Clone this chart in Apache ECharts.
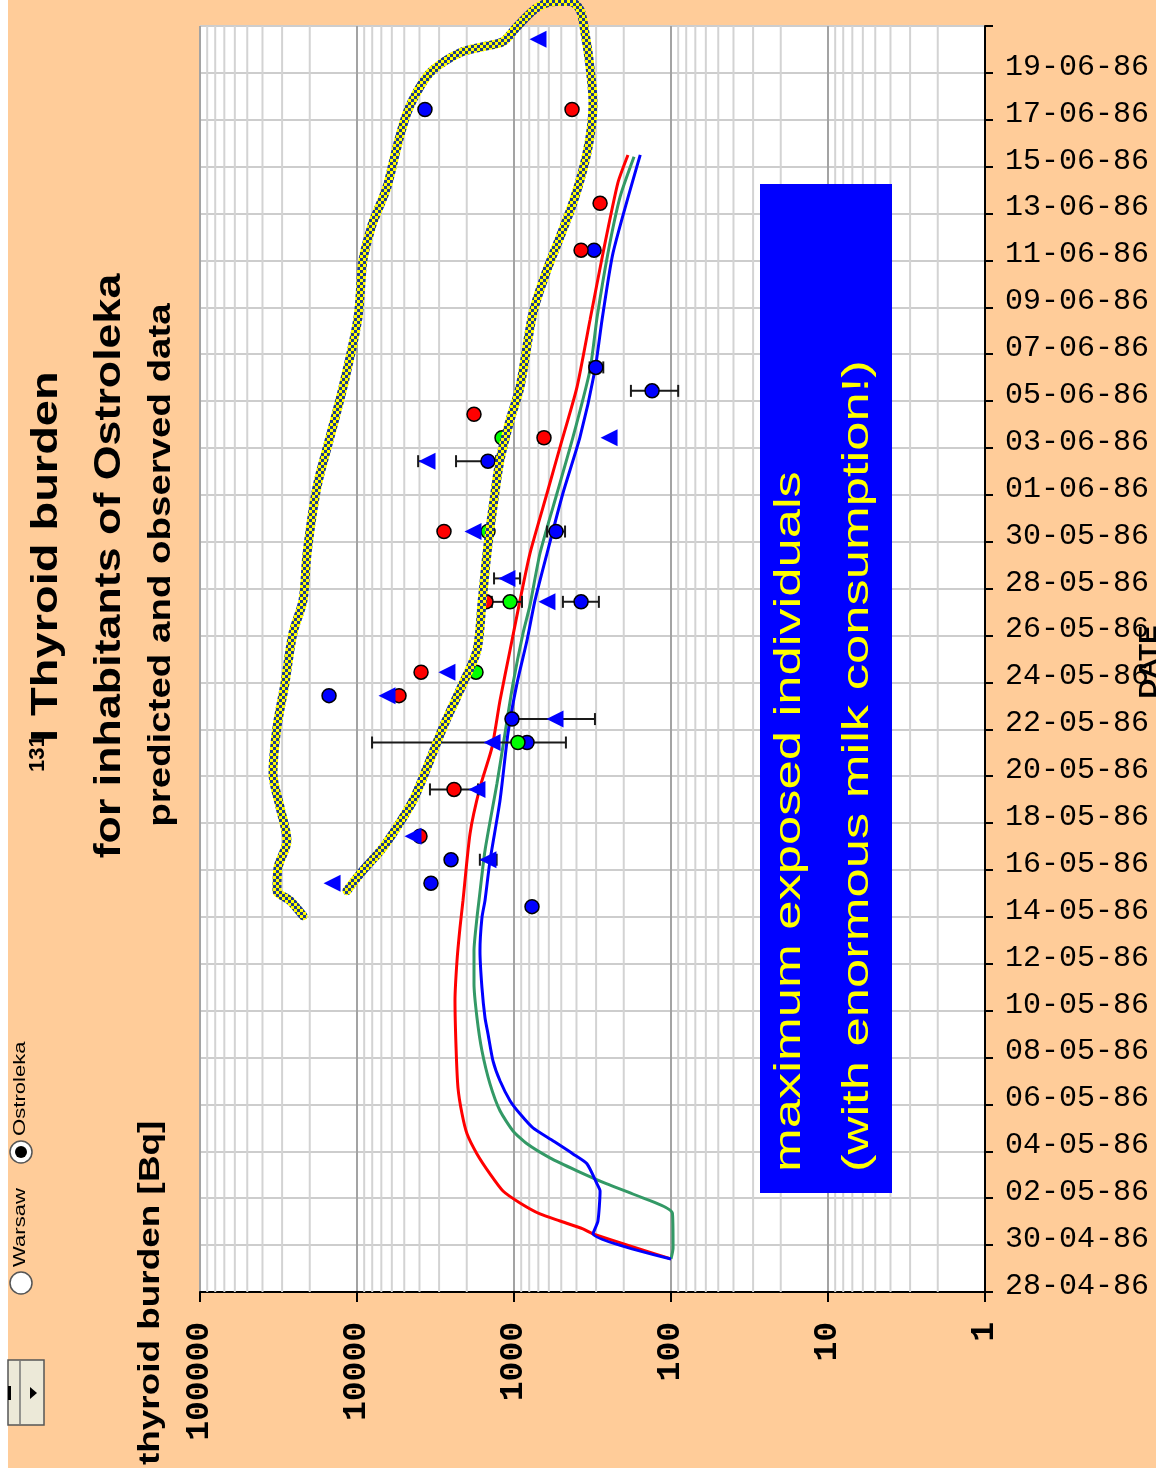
<!DOCTYPE html>
<html>
<head>
<meta charset="utf-8">
<script src="https://cdn.jsdelivr.net/npm/echarts/dist/echarts.min.js"></script>
<style>
  html, body { margin: 0; padding: 0; background: #ffffff; }
  #chart { width: 1156px; height: 1475px; }
</style>
</head>
<body>
<div id="chart"></div>
<script>
// ---- time reference: days are counted from 28-04-86 00:00 ----
const START_DATE = Date.UTC(1986, 3, 28);
const DAY_MS = 864e5;
const MEASURE_HOUR = 10.5;          // observations are plotted at mid-morning
const AXIS_DAYS = 54;
const DATE_STEP = 2;
const LAST_LABELLED_DAY = 52;

// ---- model predictions: [days since 28-04-86, thyroid burden Bq] ----
const MODEL_RED = [
  [1.41, 100], [2.48, 314], [2.69, 364], [3.03, 509], [3.33, 683], [3.80, 916],
  [4.31, 1175], [5.04, 1422], [5.89, 1721], [6.75, 1992], [7.60, 2143], [8.71, 2274],
  [10.42, 2339], [12.43, 2376], [14.13, 2307], [15.54, 2208], [16.70, 2113],
  [19.56, 1905], [21.52, 1647], [23.23, 1381], [25.23, 1228], [27.37, 1060],
  [29.50, 916], [31.51, 791], [34.07, 616], [36.04, 509], [38.60, 397],
  [41.46, 328], [44.32, 271], [47.31, 218], [48.50, 188]
];
const MODEL_GREEN = [
  [1.41, 100], [1.88, 97], [3.37, 98], [4.18, 175], [4.61, 256], [5.17, 397],
  [5.72, 590], [6.32, 826], [6.87, 1014], [7.73, 1228], [8.88, 1422], [10.29, 1600],
  [11.70, 1721], [13.15, 1798], [14.56, 1798], [15.97, 1721], [16.70, 1671],
  [18.83, 1530], [21.69, 1284], [23.83, 1141], [25.96, 1014], [28.10, 876],
  [29.30, 791], [31.51, 683], [34.07, 532], [36.46, 421], [39.33, 328],
  [41.55, 296], [44.32, 252], [46.71, 211], [48.42, 172]
];
const MODEL_BLUE = [
  [1.41, 100], [2.48, 314], [3.03, 292], [4.31, 283], [4.61, 296], [5.47, 343],
  [5.89, 421], [6.45, 565], [7.00, 757], [7.60, 916], [8.16, 1060], [9.01, 1228],
  [9.86, 1361], [11.02, 1465], [11.70, 1530], [12.98, 1600], [14.56, 1647],
  [15.97, 1600], [16.70, 1530], [18.40, 1422], [20.96, 1228], [23.83, 1092],
  [25.96, 957], [27.80, 826], [29.50, 735], [31.51, 616], [34.07, 488],
  [36.46, 380], [39.33, 305], [41.46, 275], [44.32, 234], [48.50, 157]
];

// ---- observed data: [date dd-mm (1986), thyroid burden Bq] ----
const OBS_BLUE_DOTS = [
  ['14-05', 768], ['15-05', 3380], ['16-05', 2518], ['21-05', 826], ['22-05', 1030],
  ['23-05', 15070], ['27-05', 374], ['30-05', 540], ['02-06', 1465], ['05-06', 132],
  ['06-06', 301], ['11-06', 309], ['17-06', 3690]
];
const OBS_RED_DOTS = [
  ['17-05', 3970], ['19-05', 2410], ['23-05', 5399], ['24-05', 3909], ['27-05', 1507],
  ['30-05', 2792], ['03-06', 644], ['04-06', 1798], ['11-06', 374], ['13-06', 283],
  ['17-06', 427]
];
const OBS_GREEN_DOTS = [
  ['21-05', 944], ['24-05', 1746], ['27-05', 1059], ['30-05', 1465], ['03-06', 1192]
];
const OBS_BLUE_TRIANGLES = [
  ['15-05', 14420], ['16-05', 1465], ['17-05', 4400], ['19-05', 1722], ['21-05', 1380],
  ['22-05', 548], ['23-05', 6442], ['24-05', 2673], ['27-05', 617], ['28-05', 1109],
  ['30-05', 1824], ['02-06', 3581], ['03-06', 248], ['20-06', 703]
];
// error bars: [date, low Bq, high Bq]
const ERROR_BARS = [
  ['16-05', 1290, 1650], ['19-05', 1695, 3430], ['21-05', 467, 8020], ['22-05', 305, 1030],
  ['27-05', 889, 1384], ['27-05', 288, 488], ['28-05', 916, 1340], ['30-05', 473, 616],
  ['02-06', 1300, 2340], ['02-06', 3300, 4080], ['03-06', 610, 690], ['05-06', 90, 180],
  ['06-06', 270, 330]
];

// ---- hand-drawn outline around the maximum exposed individuals: [days, Bq] ----
const MAX_EXPOSED_OUTLINE = [
  [16.05, 22080], [16.70, 26730], [17.12, 32350], [18.10, 31850], [19.26, 27920],
  [20.67, 30900], [22.12, 34280], [24.08, 32350], [25.96, 28770], [28.10, 25590],
  [29.50, 22080], [31.51, 20800], [34.33, 17990], [36.46, 14860], [38.60, 12270],
  [41.55, 9860], [44.02, 9160], [45.52, 8020], [46.16, 7350], [47.14, 6440],
  [48.85, 5560], [50.30, 4800], [51.41, 3970], [52.13, 3280], [52.86, 2208],
  [53.12, 1575], [53.33, 1175], [53.97, 957], [54.78, 714], [55.04, 532],
  [55.04, 440], [54.70, 380], [53.71, 353], [52.26, 328], [50.73, 314],
  [49.27, 328], [47.86, 364], [46.46, 421], [45.00, 509], [43.60, 616],
  [41.76, 757], [38.60, 916], [37.19, 1060], [35.48, 1228], [33.48, 1361],
  [31.51, 1486], [29.38, 1600], [27.37, 1721], [25.96, 2113], [24.08, 2833],
  [22.37, 3581], [20.96, 4398], [20.03, 5323], [18.96, 6826], [17.98, 9160],
  [17.12, 11580]
];

// ---- value axis ----
const BQ_MIN = 1;
const BQ_MAX = 100000;
const MINOR_STEPS = [2, 3, 4, 5, 6, 7, 8, 9];
const DECADES = [1, 10, 100, 1000, 10000];
const MINOR_GRID = [];
DECADES.forEach(d => MINOR_STEPS.forEach(m => MINOR_GRID.push(d * m)));

// ---- helpers ----
function pad2(n) { return (n < 10 ? '0' : '') + n; }
function dayOf(ddmm) {
  const [d, m] = ddmm.split('-').map(Number);
  return (Date.UTC(1986, m - 1, d) - START_DATE) / DAY_MS + MEASURE_HOUR / 24;
}
function dateLabel(day) {
  const t = new Date(START_DATE + Math.round(day) * DAY_MS);
  return pad2(t.getUTCDate()) + '-' + pad2(t.getUTCMonth() + 1) + '-' + String(t.getUTCFullYear()).slice(2);
}
const toPoint = ([t, v]) => [v, t];
const obsPoint = ([d, v]) => [v, dayOf(d)];

// checkered yellow / navy stroke for the outline
const checker = document.createElement('canvas');
checker.width = checker.height = 6;
(function () {
  const g = checker.getContext('2d');
  g.fillStyle = '#ffff00'; g.fillRect(0, 0, 6, 6);
  g.fillStyle = '#1f3c8c'; g.fillRect(0, 0, 3, 3); g.fillRect(3, 3, 3, 3);
})();

const ORANGE = '#ffcc99';
const R90 = Math.PI / 2;

function vtext(x, y, text, opt) {
  return {
    type: 'text', x: x, y: y, rotation: R90, scaleX: opt.scale || 1, z: opt.z || 60,
    style: {
      text: text,
      fontFamily: opt.family || 'Liberation Sans',
      fontSize: opt.size,
      fontWeight: opt.weight || 'normal',
      fill: opt.fill || '#000',
      align: opt.align || 'center',
      verticalAlign: 'middle',
      textShadowColor: opt.shadow || 'transparent',
      textShadowOffsetX: opt.shadow ? 2 : 0,
      textShadowOffsetY: opt.shadow ? 2 : 0
    }
  };
}

const chart = echarts.init(document.getElementById('chart'), null, { renderer: 'canvas' });

const option = {
  animation: false,
  backgroundColor: ORANGE,
  grid: {
    left: 200, right: 171, top: 26, bottom: 183,
    show: true, backgroundColor: '#ffffff', borderWidth: 0,
    containLabel: false, outerBoundsMode: 'none'
  },
  xAxis: {
    type: 'log', logBase: 10, min: BQ_MIN, max: BQ_MAX, inverse: true, position: 'bottom',
    axisLine: { show: true, onZero: false, lineStyle: { color: '#000', width: 2 } },
    axisTick: { show: true, length: 10, lineStyle: { color: '#000', width: 2 } },
    axisLabel: {
      rotate: 90, margin: 30, color: '#000',
      fontFamily: 'Liberation Mono', fontSize: 33, fontWeight: 'bold',
      formatter: v => String(Math.round(v))
    },
    splitLine: { show: true, lineStyle: { color: '#a3a3a3', width: 2 } },
    minorTick: { show: false }, minorSplitLine: { show: false }
  },
  yAxis: {
    type: 'value', min: 0, max: AXIS_DAYS, interval: DATE_STEP, position: 'right',
    axisLine: { show: true, onZero: false, lineStyle: { color: '#000', width: 2 } },
    axisTick: { show: true, length: 8, lineStyle: { color: '#000', width: 2 } },
    axisLabel: {
      margin: 20, interval: 0, color: '#000',
      fontFamily: 'Liberation Mono', fontSize: 30,
      verticalAlign: 'bottom', lineHeight: 12,
      formatter: v => (v > LAST_LABELLED_DAY ? '' : dateLabel(v))
    },
    splitLine: { show: true, lineStyle: { color: '#cdcdcd', width: 2 } }
  },
  series: [
    {
      // minor log grid lines (2..9 within each decade)
      type: 'custom', silent: true, z: 1,
      data: MINOR_GRID.map(v => [v, 0]),
      encode: { x: 0, y: 1 },
      renderItem: (params, api) => {
        const cs = params.coordSys;
        const x = api.coord([api.value(0), 0])[0];
        return {
          type: 'line',
          shape: { x1: x, y1: cs.y, x2: x, y2: cs.y + cs.height },
          style: { stroke: '#d3d3d3', lineWidth: 2 }
        };
      }
    },
    {
      name: 'model red', type: 'line', z: 3, symbol: 'none', smooth: 0.2,
      data: MODEL_RED.map(toPoint),
      lineStyle: { color: '#ff0000', width: 3 }
    },
    {
      name: 'model green', type: 'line', z: 3, symbol: 'none', smooth: 0.2,
      data: MODEL_GREEN.map(toPoint),
      lineStyle: { color: '#339966', width: 3 }
    },
    {
      name: 'model blue', type: 'line', z: 3, symbol: 'none', smooth: 0.2,
      data: MODEL_BLUE.map(toPoint),
      lineStyle: { color: '#0000ff', width: 3 }
    },
    {
      // horizontal error bars with end caps
      type: 'custom', z: 4, silent: true,
      data: ERROR_BARS.map(([d, lo, hi]) => [dayOf(d), lo, hi]),
      encode: { y: 0, x: [1, 2] },
      renderItem: (params, api) => {
        const day = api.value(0);
        const a = api.coord([api.value(1), day]);
        const b = api.coord([api.value(2), day]);
        const h = 6;
        const st = { stroke: '#1a1a1a', lineWidth: 2 };
        return {
          type: 'group',
          children: [
            { type: 'line', shape: { x1: a[0], y1: a[1], x2: b[0], y2: b[1] }, style: st },
            { type: 'line', shape: { x1: a[0], y1: a[1] - h, x2: a[0], y2: a[1] + h }, style: st },
            { type: 'line', shape: { x1: b[0], y1: b[1] - h, x2: b[0], y2: b[1] + h }, style: st }
          ]
        };
      }
    },
    {
      name: 'observed blue', type: 'scatter', z: 5, symbol: 'circle', symbolSize: 14,
      data: OBS_BLUE_DOTS.map(obsPoint),
      itemStyle: { color: '#0000ff', borderColor: '#000', borderWidth: 1.5, opacity: 1 }
    },
    {
      name: 'observed red', type: 'scatter', z: 5, symbol: 'circle', symbolSize: 14,
      data: OBS_RED_DOTS.map(obsPoint),
      itemStyle: { color: '#ff0000', borderColor: '#000', borderWidth: 1.5, opacity: 1 }
    },
    {
      name: 'observed green', type: 'scatter', z: 5, symbol: 'circle', symbolSize: 14,
      data: OBS_GREEN_DOTS.map(obsPoint),
      itemStyle: { color: '#00ff00', borderColor: '#000', borderWidth: 1.5, opacity: 1 }
    },
    {
      name: 'observed triangles', type: 'scatter', z: 5,
      symbol: 'path://M0,50 L100,0 L100,100 Z', symbolSize: [17, 17],
      data: OBS_BLUE_TRIANGLES.map(obsPoint),
      itemStyle: { color: '#0000ff', opacity: 1 }
    },
    {
      name: 'maximum exposed', type: 'line', z: 6, symbol: 'none', smooth: 0.3,
      clip: false,
      data: MAX_EXPOSED_OUTLINE.map(toPoint),
      lineStyle: { color: { image: checker, repeat: 'repeat' }, width: 9, cap: 'round', join: 'round' }
    }
  ],
  graphic: [
    // page margins
    { type: 'rect', z: 70, shape: { x: 0, y: 0, width: 8, height: 1475 }, style: { fill: '#ffffff' } },
    { type: 'rect', z: 70, shape: { x: 0, y: 1468, width: 1156, height: 7 }, style: { fill: '#ffffff' } },

    // titles
    vtext(38, 772, '131', { size: 22, weight: 'bold', align: 'left' }),
    vtext(47, 742, 'I Thyroid burden', { size: 37, weight: 'bold', align: 'left', scale: 1.27 }),
    vtext(110, 566, 'for inhabitants of Ostroleka', { size: 37, weight: 'bold', scale: 1.21 }),
    vtext(161, 565, 'predicted and observed data', { size: 31, weight: 'bold', scale: 1.24 }),

    // axis names
    vtext(151, 1465, 'thyroid burden [Bq]', { size: 30, weight: 'bold', align: 'left', scale: 1.23 }),
    vtext(1149, 662, 'DATE', { size: 24, weight: 'bold', scale: 1.15 }),

    // station selector
    { type: 'circle', z: 60, shape: { cx: 21, cy: 1283, r: 11 }, style: { fill: '#fff', stroke: '#555', lineWidth: 1.5 } },
    vtext(20, 1267, 'Warsaw', { size: 17, align: 'left', scale: 1.3 }),
    { type: 'circle', z: 60, shape: { cx: 21, cy: 1152, r: 11 }, style: { fill: '#fff', stroke: '#555', lineWidth: 1.5 } },
    { type: 'circle', z: 61, shape: { cx: 21, cy: 1152, r: 6 }, style: { fill: '#000' } },
    vtext(20, 1136, 'Ostroleka', { size: 17, align: 'left', scale: 1.3 }),

    // scroll control
    { type: 'rect', z: 71, shape: { x: 8, y: 1360, width: 36, height: 65 }, style: { fill: '#ece9d8', stroke: '#555', lineWidth: 1.5 } },
    { type: 'line', z: 72, shape: { x1: 20, y1: 1360, x2: 20, y2: 1425 }, style: { stroke: '#777', lineWidth: 1.5 } },
    { type: 'polygon', z: 72, shape: { points: [[30, 1387], [37, 1393], [30, 1399]] }, style: { fill: '#000' } },
    { type: 'rect', z: 72, shape: { x: 8, y: 1386, width: 3, height: 14 }, style: { fill: '#000' } },

    // annotation box
    { type: 'rect', z: 50, shape: { x: 760, y: 184, width: 132, height: 1009 }, style: { fill: '#0000ff' } },
    vtext(790, 1172, 'maximum exposed individuals', { size: 37, fill: '#ffff00', align: 'left', scale: 1.42, shadow: '#000044' }),
    vtext(858, 1172, '(with enormous milk consumption!)', { size: 37, fill: '#ffff00', align: 'left', scale: 1.42, shadow: '#000044' })
  ]
};

chart.setOption(option);
</script>
</body>
</html>
